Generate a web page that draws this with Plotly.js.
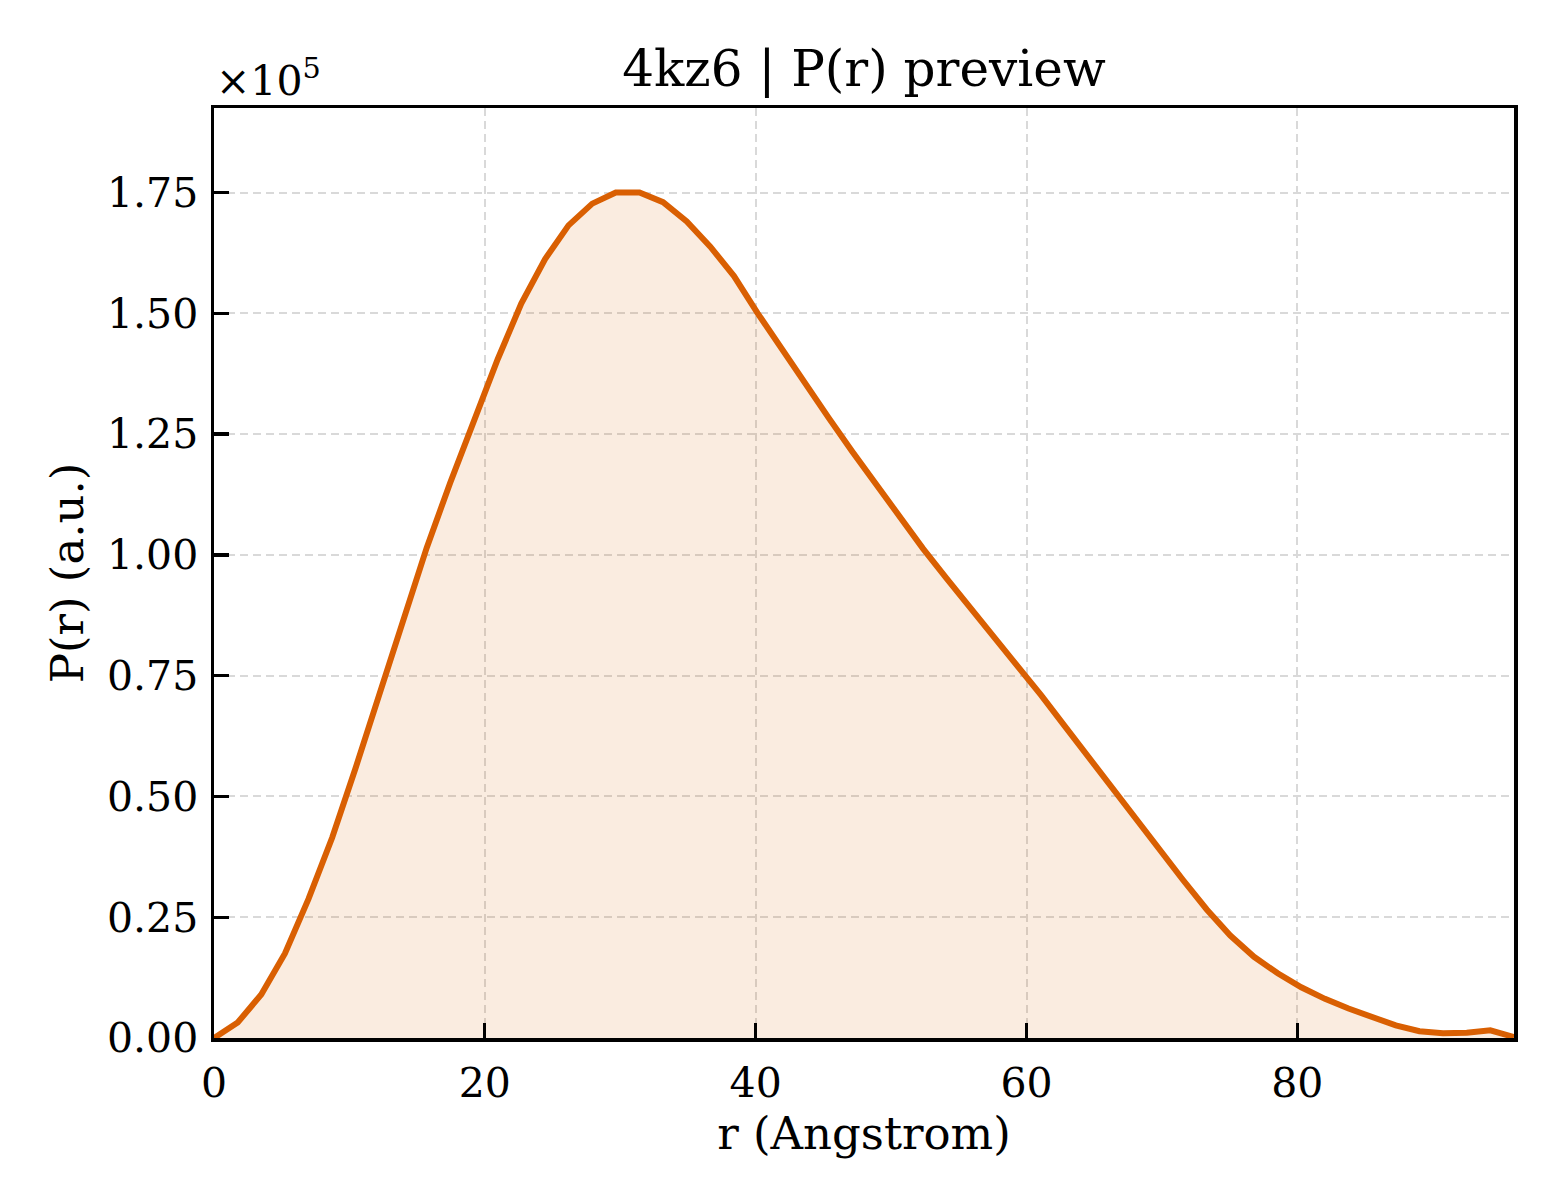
<!DOCTYPE html>
<html>
<head>
<meta charset="utf-8">
<script src="https://cdn.plot.ly/plotly-3.0.1.min.js"></script>
<style>
  html, body { margin: 0; padding: 0; background: #ffffff; }
  #chart { width: 1560px; height: 1200px; }
</style>
</head>
<body>
<div id="chart"></div>
<script>
// r in Angstrom
const r_angstrom = [0, 1.75, 3.49, 5.24, 6.98, 8.73, 10.47, 12.22, 13.96, 15.71,
  17.45, 19.2, 20.95, 22.69, 24.44, 26.18, 27.93, 29.67, 31.42, 33.16,
  34.91, 36.65, 38.4, 40.15, 41.89, 43.64, 45.38, 47.13, 48.87, 50.62,
  52.36, 54.11, 55.85, 57.6, 59.35, 61.09, 62.84, 64.58, 66.33, 68.07,
  69.82, 71.56, 73.31, 75.05, 76.8, 78.55, 80.29, 82.04, 83.78, 85.53,
  87.27, 89.02, 90.76, 92.51, 94.25, 96.0];
// P(r) in units of 1e5 (a.u.)
const pr_e5 = [0.0, 0.032, 0.09, 0.175, 0.288, 0.415, 0.56, 0.715, 0.867, 1.015,
  1.15, 1.28, 1.405, 1.52, 1.612, 1.682, 1.727, 1.75, 1.75, 1.73,
  1.69, 1.638, 1.577, 1.50, 1.427, 1.356, 1.284, 1.214, 1.146, 1.079,
  1.013, 0.951, 0.891, 0.831, 0.771, 0.709, 0.645, 0.581, 0.517, 0.454,
  0.39, 0.327, 0.266, 0.212, 0.168, 0.134, 0.105, 0.081, 0.061, 0.042,
  0.026, 0.014, 0.010, 0.011, 0.016, 0.002];

const xTicks = [0, 20, 40, 60, 80];
const yTicks = [0, 0.25, 0.5, 0.75, 1.0, 1.25, 1.5, 1.75];
const yTickText = ["0.00", "0.25", "0.50", "0.75", "1.00", "1.25", "1.50", "1.75"];

const FONT = '"DejaVu Serif", "Liberation Serif", serif';
const lineColor = '#d95f02';

const trace = {
  x: r_angstrom,
  y: pr_e5,
  type: 'scatter',
  mode: 'lines',
  line: { color: lineColor, width: 6 },
  fill: 'tozeroy',
  fillcolor: 'rgba(217,95,2,0.12)',
  hoverinfo: 'skip'
};

const axisCommon = {
  showline: true,
  linecolor: '#000000',
  linewidth: 3.5,
  mirror: true,
  ticks: 'inside',
  ticklen: 15,
  tickwidth: 3.3,
  tickcolor: '#000000',
  showgrid: true,
  gridcolor: '#d9d9d9',
  gridwidth: 2,
  griddash: '8px,5px',
  zeroline: false,
  tickfont: { family: FONT, size: 41, color: '#000000' }
};

const layout = {
  width: 1560,
  height: 1200,
  paper_bgcolor: '#ffffff',
  plot_bgcolor: '#ffffff',
  margin: { l: 214, r: 46, t: 108, b: 162 },
  showlegend: false,
  title: {
    text: '4kz6 | P(r) preview',
    font: { family: FONT, size: 50, color: '#000000' },
    x: 0.5, xref: 'paper', xanchor: 'center',
    y: 1 - 68 / 1200, yref: 'container', yanchor: 'middle'
  },
  xaxis: Object.assign({}, axisCommon, {
    range: [0, 96],
    tickvals: xTicks,
    ticktext: xTicks.map(String),
    ticklabelstandoff: 6,
    title: { text: 'r (Angstrom)', font: { family: FONT, size: 45, color: '#000000' }, standoff: 13 }
  }),
  yaxis: Object.assign({}, axisCommon, {
    range: [0, 1.925],
    tickvals: yTicks,
    ticktext: yTickText,
    ticklabelstandoff: 4,
    title: { text: 'P(r) (a.u.)', font: { family: FONT, size: 45, color: '#000000' }, standoff: 10 }
  }),
  annotations: [{
    text: '×10<sup>5</sup>',
    xref: 'paper', yref: 'paper',
    x: 0, y: 1, xanchor: 'left', yanchor: 'bottom',
    yshift: 1, xshift: 0,
    showarrow: false,
    font: { family: FONT, size: 41, color: '#000000' }
  }]
};

Plotly.newPlot('chart', [trace], layout, { staticPlot: true, displayModeBar: false });
</script>
</body>
</html>
